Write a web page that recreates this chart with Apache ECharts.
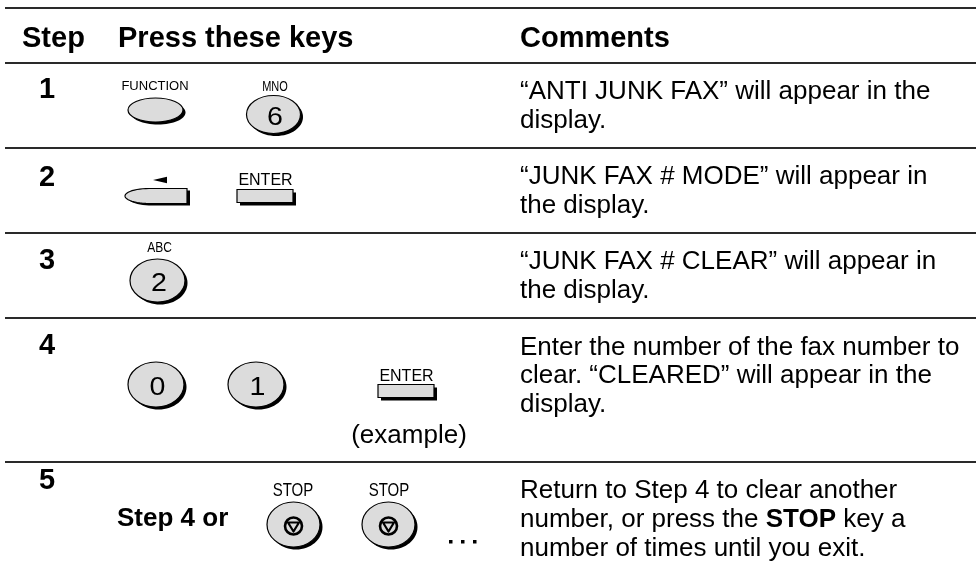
<!DOCTYPE html>
<html>
<head>
<meta charset="utf-8">
<script src="https://cdn.jsdelivr.net/npm/echarts@6/dist/echarts.min.js"></script>
<style>
html,body{margin:0;padding:0;background:#fff;}
#main{width:976px;height:572px;}
</style>
</head>
<body>
<div id="main"></div>
<script>
// ---- content (data) ----
const headers = ['Step', 'Press these keys', 'Comments'];
const steps = ['1', '2', '3', '4', '5'];
const comments = [
  ['\u201CANTI JUNK FAX\u201D will appear in the', 'display.'],
  ['\u201CJUNK FAX # MODE\u201D will appear in', 'the display.'],
  ['\u201CJUNK FAX # CLEAR\u201D will appear in', 'the display.'],
  ['Enter the number of the fax number to', 'clear. \u201CCLEARED\u201D will appear in the', 'display.'],
  ['Return to Step 4 to clear another', 'number, or press the {b|STOP} key a', 'number of times until you exit.']
];
const keyKinds = [['oval', 'round'], ['arrow', 'flat'], ['round'], ['round', 'round', 'flat'], ['round', 'round']];
const keyCaps = [['FUNCTION', 'MNO'], ['', 'ENTER'], ['ABC'], ['', '', 'ENTER'], ['STOP', 'STOP']];
const keyFaces = [['', '6'], ['', ''], ['2'], ['0', '1', ''], ['stop', 'stop']];
const keyNotes = ['', '', '', '(example)', ''];
const keyPrefix = ['', '', '', '', 'Step 4 or'];

// ---- layout (positions / sizes) ----
const FONT = "'Liberation Sans', Arial, Helvetica, sans-serif";
const ruleY = [8, 63, 148, 233, 318, 462];
const ruleX = [5, 976];
const headerX = [22, 118, 520];
const headerY = 39;
const stepX = 47;
const stepY = [90, 177.5, 261, 346, 481];
const commentX = 520;
const commentY = [92, 177, 262, 347.5, 491];
const commentLH = 28.7;
// per key: [cx, cy, rx, ry] for round/oval ; [x, y, w, h] for flat/arrow
const keyGeom = [
  [[155.5, 110, 27.5, 12], [273.5, 114.5, 27, 19]],
  [[125, 188.5, 62, 15], [237, 189.5, 56, 13]],
  [[157.5, 280.5, 27.5, 21.5]],
  [[156, 384.5, 28, 22.5], [256, 384.5, 28, 22.5], [378, 384.5, 56, 13]],
  [[293.5, 524.5, 26.5, 22.5], [388.5, 524.5, 26.5, 22.5]]
];
// caption [x, y, fontSize, verticalScale]
const capPos = [
  [[155, 86, 13, 1], [275, 87, 11, 1.25]],
  [[160, 180, 0, 1], [265.5, 180.5, 16, 1.05]],
  [[159.5, 248.5, 12, 1.2]],
  [[0, 0, 0, 1], [0, 0, 0, 1], [406.5, 376, 16, 1.05]],
  [[293, 491.5, 15, 1.2], [389, 491.5, 15, 1.2]]
];
const notePos = [null, null, null, [409, 436], null];
const prefixPos = [null, null, null, null, [117, 519]];

const els = [];
function text(t, x, y, size, weight, align, extra, sx, sy) {
  const st = Object.assign({
    text: t, x: 0, y: 0,
    font: (weight || 'normal') + ' ' + size + 'px ' + FONT,
    fontFamily: FONT, fontSize: size, fontWeight: weight || 'normal',
    fill: '#000',
    align: align || 'left', verticalAlign: 'middle',
    textAlign: align || 'left', textVerticalAlign: 'middle'
  }, extra || {});
  els.push({ type: 'text', z: 10, x: x, y: y, scaleX: sx || 1, scaleY: sy || 1, style: st });
}

// rules
ruleY.forEach(function (y) {
  els.push({ type: 'line', shape: { x1: ruleX[0], y1: y, x2: ruleX[1], y2: y }, style: { stroke: '#2a2a2a', lineWidth: 2 } });
});

// headers
headers.forEach(function (h, i) { text(h, headerX[i], headerY, 29, 'bold'); });

// step numbers
steps.forEach(function (s, i) { text(s, stepX, stepY[i], 29, 'bold', 'center'); });

// comments
comments.forEach(function (lines, i) {
  lines.forEach(function (ln, j) {
    text(ln, commentX, commentY[i] + j * commentLH, 26, 'normal', 'left', {
      rich: { b: { fontWeight: 'bold', fontSize: 26, fontFamily: FONT, fill: '#000' } }
    });
  });
});

// keys
const KEYFILL = '#dcdcdc';
function ellipseKey(g) {
  els.push({ type: 'ellipse', z: 2, shape: { cx: g[0] + 2.5, cy: g[1] + 2.5, rx: g[2], ry: g[3] }, style: { fill: '#000' } });
  els.push({ type: 'ellipse', z: 3, shape: { cx: g[0], cy: g[1], rx: g[2], ry: g[3] }, style: { fill: KEYFILL, stroke: '#000', lineWidth: 1.2 } });
}
function flatKey(g) {
  els.push({ type: 'rect', z: 2, shape: { x: g[0] + 3, y: g[1] + 3, width: g[2], height: g[3] }, style: { fill: '#000' } });
  els.push({ type: 'rect', z: 3, shape: { x: g[0], y: g[1], width: g[2], height: g[3] }, style: { fill: KEYFILL, stroke: '#000', lineWidth: 1.2 } });
}
function arrowKey(g) {
  const x = g[0], y = g[1], w = g[2], h = g[3];
  const pts = [];
  const cx = x + 24, cy = y + h / 2, rx = 24, ry = h / 2;
  for (let k = 0; k <= 24; k++) {
    const a = -Math.PI / 2 - k * Math.PI / 24;
    pts.push([cx + rx * Math.cos(a), cy + ry * Math.sin(a)]);
  }
  pts.push([x + w, y + h]);
  pts.push([x + w, y]);
  const sh = pts.map(function (p) { return [p[0] + 3, p[1] + 2]; });
  els.push({ type: 'polygon', z: 2, shape: { points: sh }, style: { fill: '#000' } });
  els.push({ type: 'polygon', z: 3, shape: { points: pts }, style: { fill: KEYFILL, stroke: '#000', lineWidth: 1.2 } });
}
function stopGlyph(cx, cy) {
  els.push({ type: 'circle', z: 5, shape: { cx: cx, cy: cy, r: 8.5 }, style: { fill: 'none', stroke: '#000', lineWidth: 2.6 } });
  els.push({ type: 'polygon', z: 5, shape: { points: [[cx - 5.5, cy - 3.5], [cx + 5.5, cy - 3.5], [cx, cy + 5.5]] }, style: { fill: 'none', stroke: '#000', lineWidth: 2.2, lineJoin: 'round' } });
}

keyKinds.forEach(function (row, i) {
  row.forEach(function (kind, j) {
    const g = keyGeom[i][j];
    if (kind === 'round' || kind === 'oval') ellipseKey(g);
    else if (kind === 'flat') flatKey(g);
    else if (kind === 'arrow') arrowKey(g);
    const cap = keyCaps[i][j];
    const cp = capPos[i][j];
    if (kind === 'arrow') {
      els.push({ type: 'polygon', z: 5, shape: { points: [[cp[0] - 7, cp[1]], [cp[0] + 7, cp[1] - 3.3], [cp[0] + 7, cp[1] + 3.3]] }, style: { fill: '#000' } });
    } else if (cap) {
      text(cap, cp[0], cp[1], cp[2], 'normal', 'center', null, 1, cp[3]);
    }
    const face = keyFaces[i][j];
    if (face === 'stop') stopGlyph(g[0], g[1] + 1.5);
    else if (face) text(face, g[0] + 1.5, g[1] + 3, 26, 'normal', 'center', null, 1.1, 1);
  });
  if (keyNotes[i]) text(keyNotes[i], notePos[i][0], notePos[i][1], 26, 'normal', 'center');
  if (keyPrefix[i]) text(keyPrefix[i], prefixPos[i][0], prefixPos[i][1], 26, 'bold', 'left');
});

// ellipsis after the STOP keys
[449, 461, 473].forEach(function (x) {
  els.push({ type: 'rect', z: 5, shape: { x: x, y: 540, width: 3.5, height: 3.5 }, style: { fill: '#000' } });
});

const chart = echarts.init(document.getElementById('main'), null, { renderer: 'canvas' });
chart.setOption({
  backgroundColor: '#ffffff',
  animation: false,
  graphic: { elements: els }
});
</script>
</body>
</html>
